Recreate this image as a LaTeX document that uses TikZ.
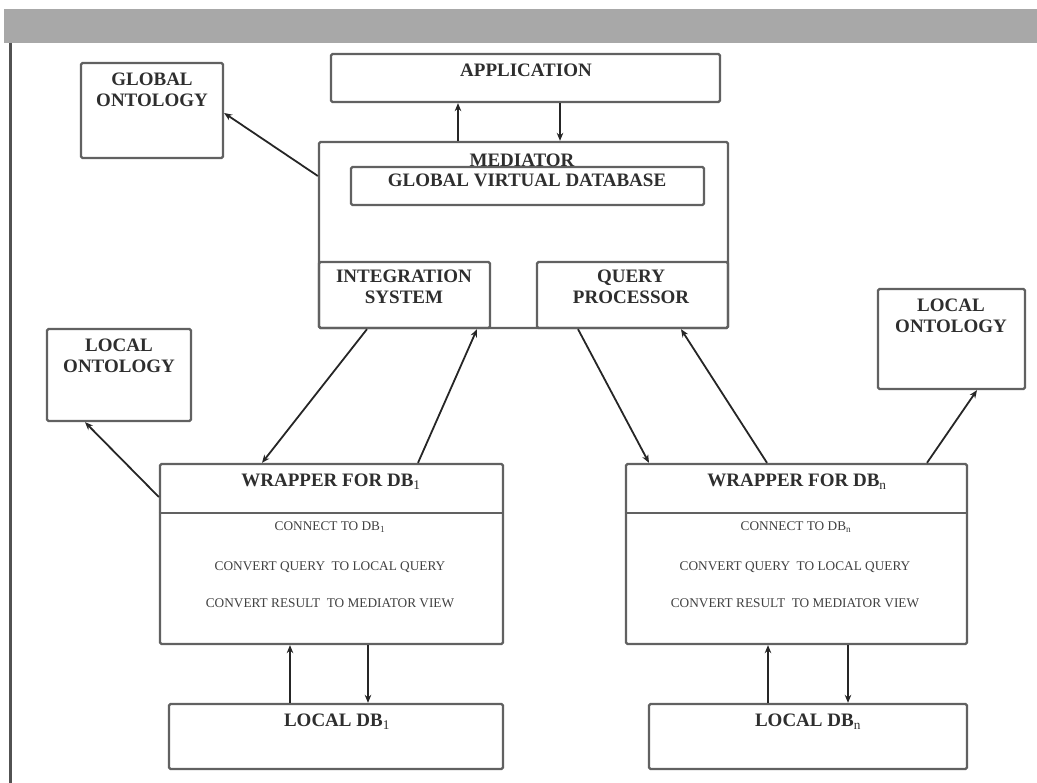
\documentclass[tikz,border=0pt]{standalone}
\usepackage{fontspec}
\setmainfont{Liberation Serif}
\usetikzlibrary{arrows.meta}
\begin{document}
\begin{tikzpicture}[x=1pt,y=-1pt,
  box/.style={draw=black!62,line width=2.3pt,rounded corners=1.5pt,inner sep=0pt,fill=none},
  head/.style={text=black!82,font=\fontsize{19}{21}\selectfont\bfseries,inner sep=0pt,align=center},
  small/.style={text=black!75,font=\fontsize{13.3}{15}\selectfont,inner sep=0pt},
  arr/.style={draw=black!85,line width=1.8pt,-{Stealth[length=8pt,width=6.5pt]}}]
\useasboundingbox (0,0) rectangle (1037,783);
% frame
\fill[black!34] (4,9) rectangle (1037,43);
\draw[black!68,line width=3pt] (10,43) -- (10,783);
% boxes
\node[box,minimum width=389pt,minimum height=48pt] (app) at (525.5,78) {};
\node[box,minimum width=142pt,minimum height=95pt] (go) at (152,110.5) {};
\node[box,minimum width=409pt,minimum height=186pt] (med) at (523.5,235) {};
\node[box,minimum width=353pt,minimum height=38pt] (gvd) at (527.5,186) {};
\node[box,minimum width=171pt,minimum height=66pt] (int) at (404.5,295) {};
\node[box,minimum width=191pt,minimum height=66pt] (qp) at (632.5,295) {};
\node[box,minimum width=144pt,minimum height=92pt] (lol) at (119,375) {};
\node[box,minimum width=147pt,minimum height=100pt] (lor) at (951.5,339) {};
\node[box,minimum width=343pt,minimum height=180pt] (w1) at (331.5,554) {};
\node[box,minimum width=341pt,minimum height=180pt] (wn) at (796.5,554) {};
\node[box,minimum width=334pt,minimum height=65pt] (db1) at (336,736.5) {};
\node[box,minimum width=318pt,minimum height=65pt] (dbn) at (808,736.5) {};
\draw[box] (w1.west |- 0,513) -- (w1.east |- 0,513);
\draw[box] (wn.west |- 0,513) -- (wn.east |- 0,513);
% texts
\node[head] (tapp) at (526,70) {APPLICATION};
\node[head] (tgo) at (152,90) {GLOBAL\\ONTOLOGY};
\node[head] (tmed) at (522,160) {MEDIATOR};
\node[head] (tgvd) at (527,180) {GLOBAL VIRTUAL DATABASE};
\node[head] (tint) at (404,287) {INTEGRATION\\SYSTEM};
\node[head] (tqp) at (631,287) {QUERY\\PROCESSOR};
\node[head] (tlol) at (119,356) {LOCAL\\ONTOLOGY};
\node[head] (tlor) at (951,316) {LOCAL\\ONTOLOGY};
\node[head] (tw1) at (331,482) {WRAPPER FOR DB\textsubscript{\mdseries 1}};
\node[head] (twn) at (797,482) {WRAPPER FOR DB\textsubscript{\mdseries n}};
\node[small] (c1a) at (330,527) {CONNECT TO DB\textsubscript{1}};
\node[small] (c1b) at (330,567) {CONVERT QUERY\ \ TO LOCAL QUERY};
\node[small] (c1c) at (330,603) {CONVERT RESULT\ \ TO MEDIATOR VIEW};
\node[small] (cna) at (796,527) {CONNECT TO DB\textsubscript{n}};
\node[small] (cnb) at (795,567) {CONVERT QUERY\ \ TO LOCAL QUERY};
\node[small] (cnc) at (795,603) {CONVERT RESULT\ \ TO MEDIATOR VIEW};
\node[head] (tdb1) at (337,722) {LOCAL DB\textsubscript{\mdseries 1}};
\node[head] (tdbn) at (808,722) {LOCAL DB\textsubscript{\mdseries n}};
% connectors
\draw[arr] (med.north -| 458,0) -- (app.south -| 458,0);
\draw[arr] (app.south -| 560,0) -- (med.north -| 560,0);
\draw[arr] (med.west |- 0,176) -- (go.east |- 0,113);
\draw[arr] (int.south -| 367,0) -- (w1.north -| 262,0);
\draw[arr] (w1.north -| 418,0) -- (int.south -| 477,0);
\draw[arr] (qp.south -| 578,0) -- (wn.north -| 649,0);
\draw[arr] (wn.north -| 767,0) -- (qp.south -| 681,0);
\draw[arr] (w1.west |- 0,497) -- (lol.south -| 85,0);
\draw[arr] (wn.north -| 927,0) -- (lor.south -| 977,0);
\draw[arr] (db1.north -| 290,0) -- (w1.south -| 290,0);
\draw[arr] (w1.south -| 368,0) -- (db1.north -| 368,0);
\draw[arr] (dbn.north -| 768,0) -- (wn.south -| 768,0);
\draw[arr] (wn.south -| 848,0) -- (dbn.north -| 848,0);
\end{tikzpicture}
\end{document}
